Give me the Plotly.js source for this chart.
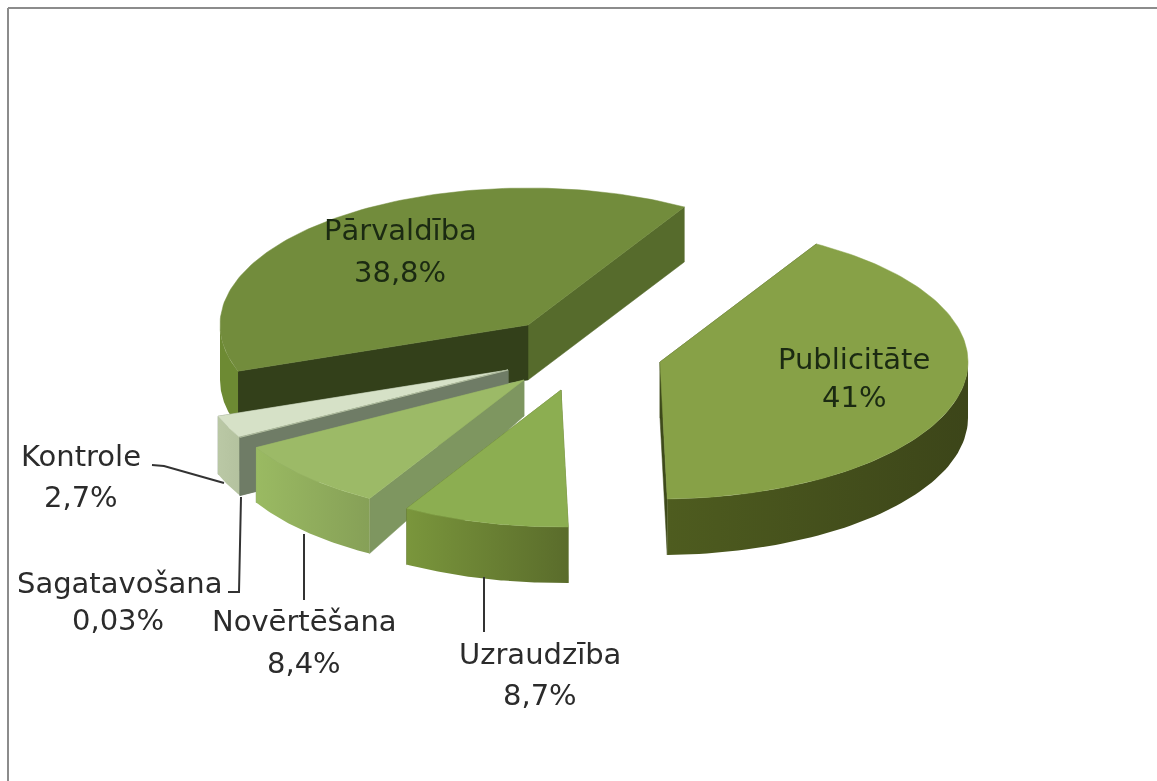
<!DOCTYPE html>
<html>
<head>
<meta charset="utf-8">
<script src="https://cdn.plot.ly/plotly-3.0.1.min.js"></script>
<style>
html,body{margin:0;padding:0;background:#fff;overflow:hidden}
#chart{width:1157px;height:781px;filter:blur(0.6px)}
</style>
</head>
<body>
<div id="chart"></div>
<script>
// Data (order as the pie runs clockwise)
const categories = ["Publicitāte","Uzraudzība","Novērtēšana","Sagatavošana","Kontrole","Pārvaldība"];
const values = [41, 8.7, 8.4, 0.03, 2.7, 38.8];
const valueLabels = ["41%","8,7%","8,4%","0,03%","2,7%","38,8%"];

// Pie projection (pixels of the plot area)
const startAngle = 30.5, radiusX = 308, radiusY = 137;
const apexX = [660, 561, 524, 508, 508, 528];
const apexY = [362, 390, 380, 370, 370, 325];
const depth = [56, 56, 55, 58, 58, 55];
const apexDepth = [56, 56, 36, 58, 58, 55];
const drawOrder = [0, 5, 4, 3, 2, 1];

// Styling
const topColors = ["#87a147","#8cae51","#9cba67","#c8d4b4","#d6e1c7","#728c3c"];
const outerLeft  = ["#4e5c1f","#7a963c","#9aba62","#6f7c66","#bac8a5","#6d8a33"];
const outerRight = ["#3c4519","#5a6c2b","#86a057","#6f7c66","#b4c29f","#6d8a33"];
const startFace = ["#3e4a1b","#5a6c2b","#7e9660","#6f7c66","#6f7c66","#33401a"];
const endFace   = ["#3e4a1b","#5a6c2b","#7e9660","#6f7c66","#6f7c66","#566b2c"];
const nameColors = ["#1b2a12","#2b2b2b","#2b2b2b","#2b2b2b","#2b2b2b","#1b2a12"];

// Label placement
const nameX = [854, 540, 304, 119, 81, 400];
const nameY = [359, 654, 621, 583, 456, 230];
const pctX  = [854, 540, 304, 118, 81, 400];
const pctY  = [397, 695, 663, 620, 497, 272];

// Leader lines
const leaderX = [[484,484],[304,304],[228,239,241],[152,164,224]];
const leaderY = [[577,632],[534,600],[592,592,497],[465,466,483]];

const total = values.reduce((a,b)=>a+b,0);
const angles = []; let acc = startAngle;
values.forEach(v=>{ const s=acc; acc+=v/total*360; angles.push([s,acc]); });

function pt(i,a,drop){
  const r=a*Math.PI/180;
  return [apexX[i]+radiusX*Math.sin(r), apexY[i]-radiusY*Math.cos(r)+(drop||0)];
}
function poly(pts,name,extra){
  return Object.assign({type:"scatter",mode:"lines",fill:"toself",
    x:pts.map(p=>p[0]),y:pts.map(p=>p[1]),name:name,hoverinfo:"name",
    showlegend:false,line:{width:0.5}},extra);
}
function solid(c){return {fillcolor:c,line:{width:0.5,color:c}};}

const traces=[];
drawOrder.forEach(i=>{
  const [s,e]=angles[i], d=depth[i], n=categories[i];
  const A=[apexX[i],apexY[i]], Ab=[apexX[i],apexY[i]+apexDepth[i]];
  // radial faces
  traces.push(poly([A,pt(i,e),pt(i,e,d),Ab,A],n,solid(endFace[i])));
  traces.push(poly([A,pt(i,s),pt(i,s,d),Ab,A],n,solid(startFace[i])));
  // outer wall, the part facing the viewer
  const a0=Math.max(s,90), a1=Math.min(e,270);
  if(a1>a0){
    const up=[],down=[];
    for(let k=0;k<=60;k++){const a=a0+(a1-a0)*k/60; up.push(pt(i,a)); down.unshift(pt(i,a,d));}
    const pts=up.concat(down); pts.push(up[0]);
    traces.push(poly(pts,n,{
      fillcolor:outerLeft[i],
      fillgradient:{type:"horizontal",colorscale:[[0,outerLeft[i]],[1,outerRight[i]]]},
      line:{width:0}
    }));
  }
  // top
  const top=[A];
  for(let k=0;k<=120;k++){top.push(pt(i,s+(e-s)*k/120));}
  top.push(A);
  traces.push(poly(top,n,solid(topColors[i])));
});
leaderX.forEach((lx,k)=>{
  traces.push({type:"scatter",mode:"lines",x:lx,y:leaderY[k],hoverinfo:"skip",showlegend:false,
    line:{color:"#333333",width:2}});
});

const font="'DejaVu Sans', sans-serif";
const annotations=[];
categories.forEach((c,i)=>{
  annotations.push({xref:"x",yref:"y",x:nameX[i],y:nameY[i],text:c,showarrow:false,
    xanchor:"center",yanchor:"middle",font:{family:font,size:29,color:nameColors[i]}});
  annotations.push({xref:"x",yref:"y",x:pctX[i],y:pctY[i],text:valueLabels[i],showarrow:false,
    xanchor:"center",yanchor:"middle",font:{family:font,size:29,color:nameColors[i]}});
});

const layout={
  width:1157,height:781,margin:{l:0,r:0,t:0,b:0},
  paper_bgcolor:"#ffffff",plot_bgcolor:"#ffffff",
  xaxis:{range:[0,1157],visible:false,fixedrange:true},
  yaxis:{range:[781,0],visible:false,fixedrange:true},
  annotations:annotations,
  shapes:[
    {type:"line",xref:"x",yref:"y",x0:8,y0:8,x1:1157,y1:8,line:{color:"#8c8c8c",width:2}},
    {type:"line",xref:"x",yref:"y",x0:8,y0:8,x1:8,y1:781,line:{color:"#8c8c8c",width:2}}
  ],
  hovermode:"closest"
};
Plotly.newPlot("chart",traces,layout,{displayModeBar:false});
</script>
</body>
</html>
